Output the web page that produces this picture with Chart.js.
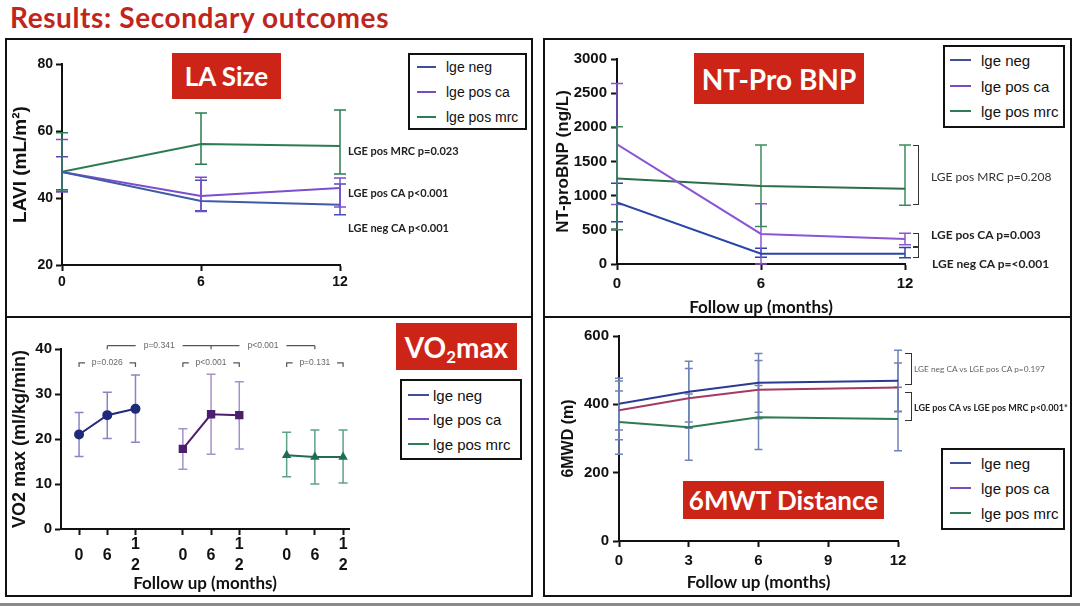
<!DOCTYPE html>
<html>
<head>
<meta charset="utf-8">
<script src="https://cdn.jsdelivr.net/npm/chart.js@4.4.1/dist/chart.umd.min.js"></script>
<style>
  html, body { margin: 0; padding: 0; background: #fff; }
  #slide { position: relative; width: 1080px; height: 606px; overflow: hidden; background: #fff;
           font-family: 'Liberation Sans', Arial, sans-serif; color: #111; }
  .abs { position: absolute; }
  .panel { position: absolute; border: 2px solid #111; box-sizing: border-box; }
  .tag { position: absolute; background: #cc2518; color: #fff; font-family: Lato, sans-serif; font-weight: 700;
         display: flex; align-items: center; justify-content: center; white-space: nowrap; }
  .tag sub { font-size: 60%; vertical-align: -0.3em; line-height: 0; }
  .legend { position: absolute; border: 2px solid #111; box-sizing: border-box; background: #fff; }
  .legend .row { position: absolute; white-space: nowrap; transform: translateY(-50%); line-height: 1; }
  .note { position: absolute; white-space: nowrap; font-family: Lato, sans-serif; color: #222;
          transform: translateY(-50%); line-height: 1; }
  .brk { position: absolute; border: 1.5px solid #333; border-left: none; box-sizing: border-box; }
  canvas { position: absolute; }
  #title { position: absolute; left: 10px; top: 0px; font-family: Lato, sans-serif; font-weight: 700;
           font-size: 28px; letter-spacing: 0.6px; color: #c0261c; white-space: nowrap; }
  #strip { position: absolute; left: 0; top: 603px; width: 1080px; height: 3px; background: #8a8a8a; }
</style>
</head>
<body>
<div id="slide">
  <div id="title">Results: Secondary outcomes</div>
  <div class="panel" style="left:5px;top:38px;width:528px;height:280px"></div>
  <div class="panel" style="left:543px;top:38px;width:529px;height:280px"></div>
  <div class="panel" style="left:5px;top:316px;width:528px;height:281px"></div>
  <div class="panel" style="left:543px;top:316px;width:529px;height:281px"></div>
  <canvas id="cLA"   style="left:7px;top:40px"></canvas>
  <canvas id="cBNP"  style="left:545px;top:40px"></canvas>
  <canvas id="cVO2"  style="left:7px;top:318px"></canvas>
  <canvas id="cWalk" style="left:545px;top:318px"></canvas>
  <div id="strip"></div>
</div>
<script>
/* ---------- Séries communes ---------- */
const seriesNames  = ['lge neg', 'lge pos ca', 'lge pos mrc'];
const legendColors = ['#3e4f97', '#7a4cc2', '#2f7d57'];

/* ---------- LA size (LAVI, mL/m²) ---------- */
const laMonths = [0, 6, 12];
const laNeg    = [47.8, 39.1, 38.0];
const laNegLo  = [42.5, 36.2, 35.0];
const laNegHi  = [52.3, 45.3, 44.2];
const laCa     = [47.8, 40.6, 43.0];
const laCaLo   = [41.8, 36.0, 37.3];
const laCaHi   = [57.5, 46.2, 46.0];
const laMrc    = [47.8, 56.1, 55.5];
const laMrcLo  = [42.0, 50.1, 47.2];
const laMrcHi  = [59.5, 65.4, 66.3];
const laNotes  = ['LGE pos MRC p=0.023', 'LGE pos CA p<0.001', 'LGE neg CA p<0.001'];

/* ---------- NT-proBNP (ng/L) ---------- */
const bnpMonths = [0, 6, 12];
const bnpNeg    = [900, 150, 150];
const bnpNegLo  = [620, 100, 90];
const bnpNegHi  = [1180, 230, 240];
const bnpCa     = [1750, 440, 365];
const bnpCaLo   = [870, 0, 280];
const bnpCaHi   = [2640, 880, 450];
const bnpMrc    = [1250, 1140, 1100];
const bnpMrcLo  = [500, 550, 860];
const bnpMrcHi  = [2010, 1740, 1740];
const bnpNotes  = ['LGE pos MRC p=0.208', 'LGE pos CA p=0.003', 'LGE neg CA p=<0.001'];

/* ---------- VO2 max (ml/kg/min) : 3 groupes de 3 visites ---------- */
const vo2Slots      = [0, 1, 2, 3.68, 4.68, 5.68, 7.36, 8.36, 9.36];
const vo2TickLabels = ['0', '6', ['1', '2'], '0', '6', ['1', '2'], '0', '6', ['1', '2']];
const vo2Neg   = [21.0, 25.3, 26.7];
const vo2NegLo = [16.1, 20.1, 19.3];
const vo2NegHi = [25.9, 30.4, 34.2];
const vo2Ca    = [17.8, 25.5, 25.3];
const vo2CaLo  = [13.3, 16.6, 17.8];
const vo2CaHi  = [22.3, 34.4, 32.7];
const vo2Mrc   = [16.4, 16.0, 16.0];
const vo2MrcLo = [11.6, 10.0, 10.2];
const vo2MrcHi = [21.5, 22.0, 22.0];
const vo2GroupP = ['p=0.026', 'p<0.001', 'p=0.131'];
const vo2CrossP = ['p=0.341', 'p<0.001'];

/* ---------- 6MWT distance (m) ---------- */
const walkMonths = [0, 3, 6, 12];
const walkNeg    = [402, 437, 463, 469];
const walkNegLo  = [325, 348, 377, 380];
const walkNegHi  = [476, 526, 549, 558];
const walkCa     = [383, 418, 443, 449];
const walkCaLo   = [296, 330, 358, 378];
const walkCaHi   = [468, 505, 528, 521];
const walkMrc    = [348, 333, 362, 357];
const walkMrcLo  = [254, 236, 268, 264];
const walkMrcHi  = [439, 430, 455, 450];
const walkNotes  = ['LGE neg CA vs LGE pos CA p=0.197', 'LGE pos CA vs LGE pos MRC p<0.001*'];

/* ================================================ */

Chart.defaults.font.family = "'Liberation Sans', Arial, sans-serif";
Chart.defaults.color = '#111';

const slide = document.getElementById('slide');
const pts = (xs, ys) => ys.map((y, i) => ({ x: xs[i], y }));

/**
 * Barres d'erreur dessinées à partir des échelles du graphique.
 * Chaque dataset porte errLo / errHi (+ errColor, capHalf).
 */
const errorBars = {
  id: 'errorBars',
  beforeDatasetsDraw(chart) {
    const { ctx } = chart;
    const yScale = chart.scales.y;
    chart.data.datasets.forEach((ds, i) => {
      if (!ds.errLo) return;
      const meta = chart.getDatasetMeta(i);
      const cap = ds.capHalf || 5;
      ctx.save();
      ctx.strokeStyle = ds.errColor || ds.borderColor;
      ctx.lineWidth = 1.5;
      meta.data.forEach((pt, j) => {
        const lo = yScale.getPixelForValue(ds.errLo[j]);
        const hi = yScale.getPixelForValue(ds.errHi[j]);
        ctx.beginPath();
        ctx.moveTo(pt.x, lo); ctx.lineTo(pt.x, hi);
        ctx.moveTo(pt.x - cap, lo); ctx.lineTo(pt.x + cap, lo);
        ctx.moveTo(pt.x - cap, hi); ctx.lineTo(pt.x + cap, hi);
        ctx.stroke();
      });
      ctx.restore();
    });
  },
};

/**
 * Crochets de comparaison au-dessus du graphique VO2.
 */
const vo2Brackets = {
  id: 'vo2Brackets',
  afterDraw(chart) {
    const { ctx } = chart;
    const { x, y } = chart.scales;
    ctx.save();
    ctx.strokeStyle = '#555';
    ctx.fillStyle = '#666';
    ctx.lineWidth = 1.2;
    ctx.font = "8.5px 'Liberation Sans'";
    ctx.textAlign = 'center';
    ctx.textBaseline = 'middle';

    // intra-groupe : ⌐ p ¬
    const yLow = y.getPixelForValue(36.9);
    vo2GroupP.forEach((label, g) => {
      const x0 = x.getPixelForValue(vo2Slots[g * 3]);
      const x1 = x.getPixelForValue(vo2Slots[g * 3 + 2]);
      ctx.beginPath();
      ctx.moveTo(x0, yLow + 4); ctx.lineTo(x0, yLow); ctx.lineTo(x0 + 6, yLow);
      ctx.moveTo(x1 - 6, yLow); ctx.lineTo(x1, yLow); ctx.lineTo(x1, yLow + 4);
      ctx.stroke();
      ctx.fillText(label, (x0 + x1) / 2, yLow);
    });

    // inter-groupes, relié au point du milieu de chaque groupe
    const yTop = y.getPixelForValue(40.75);
    const xs = [1, 4, 7].map(k => x.getPixelForValue(vo2Slots[k]));
    ctx.beginPath();
    xs.forEach(px => { ctx.moveTo(px, yTop); ctx.lineTo(px, yTop + 3.5); });
    vo2CrossP.forEach((label, k) => {
      const a = xs[k], b = xs[k + 1], mid = (a + b) / 2;
      const gap = ctx.measureText(label).width / 2 + 8;
      ctx.moveTo(a, yTop); ctx.lineTo(mid - gap, yTop);
      ctx.moveTo(mid + gap, yTop); ctx.lineTo(b, yTop);
    });
    ctx.stroke();
    vo2CrossP.forEach((label, k) => ctx.fillText(label, (xs[k] + xs[k + 1]) / 2, yTop));
    ctx.restore();
  },
};

// Style d'axe "GraphPad" : trait noir épais, tirets vers l'extérieur, pas de grille
function axis(extra, fontSize, tickPad) {
  const base = {
    type: 'linear',
    border: { display: true, color: '#111', width: 2 },
    grid: { drawOnChartArea: false, drawTicks: true, tickLength: 6, tickWidth: 2, tickColor: '#111' },
    ticks: { color: '#111', font: { size: fontSize, weight: 'bold' }, padding: tickPad, maxRotation: 0,
             callback: v => String(v) },
  };
  return Object.assign(base, extra, { ticks: Object.assign(base.ticks, extra.ticks || {}) });
}

// Place la zone de tracé (coordonnées page) dans un canvas donné
function makeChart(id, box, area, datasets, scales, plugins) {
  const canvas = document.getElementById(id);
  canvas.width = box.w; canvas.height = box.h;
  canvas.style.width = box.w + 'px'; canvas.style.height = box.h + 'px';
  scales.x.afterFit = s => { s.height = box.top + box.h - area.b; };
  scales.y.afterFit = s => { s.width = area.l - box.left; };
  return new Chart(canvas, {
    type: 'line',
    data: { datasets },
    options: {
      responsive: false,
      animation: false,
      layout: { padding: { left: 0, bottom: 0, top: area.t - box.top, right: box.left + box.w - area.r } },
      plugins: { legend: { display: false }, tooltip: { enabled: false } },
      scales,
    },
    plugins: [errorBars].concat(plugins || []),
  });
}

function line(xs, ys, lo, hi, color, errColor, cap, extra) {
  return Object.assign({
    data: pts(xs, ys), errLo: lo, errHi: hi,
    borderColor: color, backgroundColor: color, errColor, capHalf: cap,
    borderWidth: 2, pointRadius: 0, tension: 0, fill: false,
  }, extra || {});
}

/* ---- LA Size ---- */
makeChart('cLA', { left: 7, top: 40, w: 524, h: 276 }, { l: 62, t: 64, r: 340, b: 265 }, [
  line(laMonths, laNeg, laNegLo, laNegHi, '#3f5ba8', '#4d4cbc', 6),
  line(laMonths, laCa,  laCaLo,  laCaHi,  '#7b4dd0', '#7b4dd0', 6),
  line(laMonths, laMrc, laMrcLo, laMrcHi, '#2b7c52', '#2b7c52', 6),
], {
  x: axis({ min: 0, max: 12, ticks: { stepSize: 6 } }, 14, 3),
  y: axis({ min: 20, max: 80, ticks: { stepSize: 20 },
            title: { display: true, text: 'LAVI (mL/m²)', font: { size: 19, weight: 'bold', lineHeight: 1.2 }, padding: { top: 2, bottom: 0 } } }, 14, 3),
});

/* ---- NT-proBNP ---- */
makeChart('cBNP', { left: 545, top: 40, w: 525, h: 276 }, { l: 617, t: 59, r: 905, b: 264 }, [
  line(bnpMonths, bnpNeg, bnpNegLo, bnpNegHi, '#2a44a8', '#2a44a8', 6),
  line(bnpMonths, bnpCa,  bnpCaLo,  bnpCaHi,  '#8b55d6', '#8b55d6', 6),
  line(bnpMonths, bnpMrc, bnpMrcLo, bnpMrcHi, '#2c6e48', '#3f8a5c', 6),
], {
  x: axis({ min: 0, max: 12, ticks: { stepSize: 6 },
            title: { display: true, text: 'Follow up (months)', font: { family: 'Lato', size: 17, weight: 'bold', lineHeight: 1 }, padding: { top: 0, bottom: 0 } } }, 15, 5),
  y: axis({ min: 0, max: 3000, ticks: { stepSize: 500 },
            title: { display: true, text: 'NT-proBNP (ng/L)', font: { size: 17, weight: 'bold', lineHeight: 1.2 }, padding: { top: 8, bottom: 0 } } }, 15, 4),
});

/* ---- VO2 max ---- */
const vo2A = vo2Slots.slice(0, 3), vo2B = vo2Slots.slice(3, 6), vo2C = vo2Slots.slice(6, 9);
makeChart('cVO2', { left: 7, top: 318, w: 524, h: 277 }, { l: 61, t: 349, r: 349, b: 529 }, [
  line(vo2A, vo2Neg, vo2NegLo, vo2NegHi, '#1f2a7a', '#8c84c2', 4.5, { pointRadius: 4, pointStyle: 'circle' }),
  line(vo2B, vo2Ca,  vo2CaLo,  vo2CaHi,  '#4b1f6e', '#a591cc', 4.5, { pointRadius: 4.5, pointStyle: 'rect' }),
  line(vo2C, vo2Mrc, vo2MrcLo, vo2MrcHi, '#1e6e52', '#5ea386', 4.5, { pointRadius: 3.5, pointStyle: 'triangle' }),
], {
  x: axis({ min: -0.64, max: 9.57,
            afterBuildTicks: s => { s.ticks = vo2Slots.map(v => ({ value: v })); },
            ticks: { autoSkip: false, crossAlign: 'center', callback: (v, i) => vo2TickLabels[i],
                     font: { size: 16, weight: 'bold', lineHeight: 1.3 } },
            title: { display: true, text: 'Follow up (months)', font: { family: 'Lato', size: 17, weight: 'bold', lineHeight: 1 }, padding: { top: 0, bottom: 3 } } }, 16, 10),
  y: axis({ min: 0, max: 40, ticks: { stepSize: 10 },
            title: { display: true, text: 'VO2 max (ml/kg/min)', font: { size: 18, weight: 'bold', lineHeight: 1.2 }, padding: { top: 2, bottom: 0 } } }, 15, 3),
}, [vo2Brackets]);

/* ---- 6MWT distance ---- */
makeChart('cWalk', { left: 545, top: 318, w: 525, h: 277 }, { l: 619, t: 336, r: 898, b: 541 }, [
  line(walkMonths, walkNeg, walkNegLo, walkNegHi, '#2b3a92', '#7083b6', 4),
  line(walkMonths, walkCa,  walkCaLo,  walkCaHi,  '#a33a62', '#7083b6', 4),
  line(walkMonths, walkMrc, walkMrcLo, walkMrcHi, '#2e7a52', '#7083b6', 4),
], {
  x: axis({ min: 0, max: 12, ticks: { stepSize: 3 },
            title: { display: true, text: 'Follow up (months)', font: { family: 'Lato', size: 17, weight: 'bold', lineHeight: 1 }, padding: { top: 0, bottom: 4 } } }, 15, 5),
  y: axis({ min: 0, max: 600, ticks: { stepSize: 200 },
            title: { display: true, text: '6MWD (m)', font: { size: 16, weight: 'bold', lineHeight: 1.2 }, padding: { top: 14, bottom: 0 } } }, 15, 4),
});

/* ---------- Éléments HTML : bandeaux, légendes, notes ---------- */
function el(cls, css, html) {
  const d = document.createElement('div');
  d.className = cls;
  Object.assign(d.style, css);
  if (html != null) d.innerHTML = html;
  slide.appendChild(d);
  return d;
}
const px = v => v + 'px';

function tag(x, y, w, h, size, html) {
  el('tag', { left: px(x), top: px(y), width: px(w), height: px(h), fontSize: px(size) }, '<span>' + html + '</span>');
}

function legend(x, y, w, h, rows, lineX, lineW, textX, size) {
  const box = el('legend', { left: px(x), top: px(y), width: px(w), height: px(h) });
  seriesNames.forEach((name, i) => {
    const ln = document.createElement('div');
    ln.className = 'abs';
    Object.assign(ln.style, { left: px(lineX - x - 2), top: px(rows[i] - y - 3), width: px(lineW), height: '2px', background: legendColors[i] });
    const tx = document.createElement('div');
    tx.className = 'row';
    tx.textContent = name;
    Object.assign(tx.style, { left: px(textX - x - 2), top: px(rows[i] - y - 2), fontSize: px(size) });
    box.append(ln, tx);
  });
}

function note(x, y, size, weight, color, text) {
  const d = el('note', { left: px(x), top: px(y), fontSize: px(size), fontWeight: weight, color }, null);
  d.textContent = text;
}

function bracket(x, y0, y1, w) {
  el('brk', { left: px(x), top: px(y0), width: px(w), height: px(y1 - y0) });
}

// bandeaux rouges
tag(172, 53, 109, 46, 26, 'LA Size');
tag(694, 53, 170, 51, 28, 'NT-Pro BNP');
tag(396, 323, 121, 47, 28, 'VO<sub>2</sub>max');
tag(683, 481, 201, 38, 26, '6MWT Distance');

// légendes
legend(408, 53, 119, 77, [67, 92, 117], 417, 19, 446, 14);
legend(943, 45, 122, 83, [60, 86, 111], 950, 21, 981, 15);
legend(400, 379, 122, 81, [395, 419, 444], 408, 21, 433, 15);
legend(941, 448, 124, 82, [463, 488, 513], 950, 21, 981, 15);

// notes LA
note(348, 150, 11, 700, '#222', laNotes[0]);
note(348, 192, 11, 700, '#222', laNotes[1]);
note(348, 227, 11, 700, '#222', laNotes[2]);

// notes NT-proBNP
bracket(913, 145, 205, 6);
bracket(913, 233, 247, 6);
bracket(913, 247, 258, 6);
note(931, 177, 12, 400, '#333', bnpNotes[0]);
note(931, 235, 12, 700, '#222', bnpNotes[1]);
note(932, 264, 12, 700, '#222', bnpNotes[2]);

// notes 6MWT
bracket(905, 353, 385, 7);
bracket(905, 392, 421, 7);
note(914, 369, 8.3, 400, '#666', walkNotes[0]);
note(914, 407, 9, 700, '#222', walkNotes[1]);
</script>
</body>
</html>
